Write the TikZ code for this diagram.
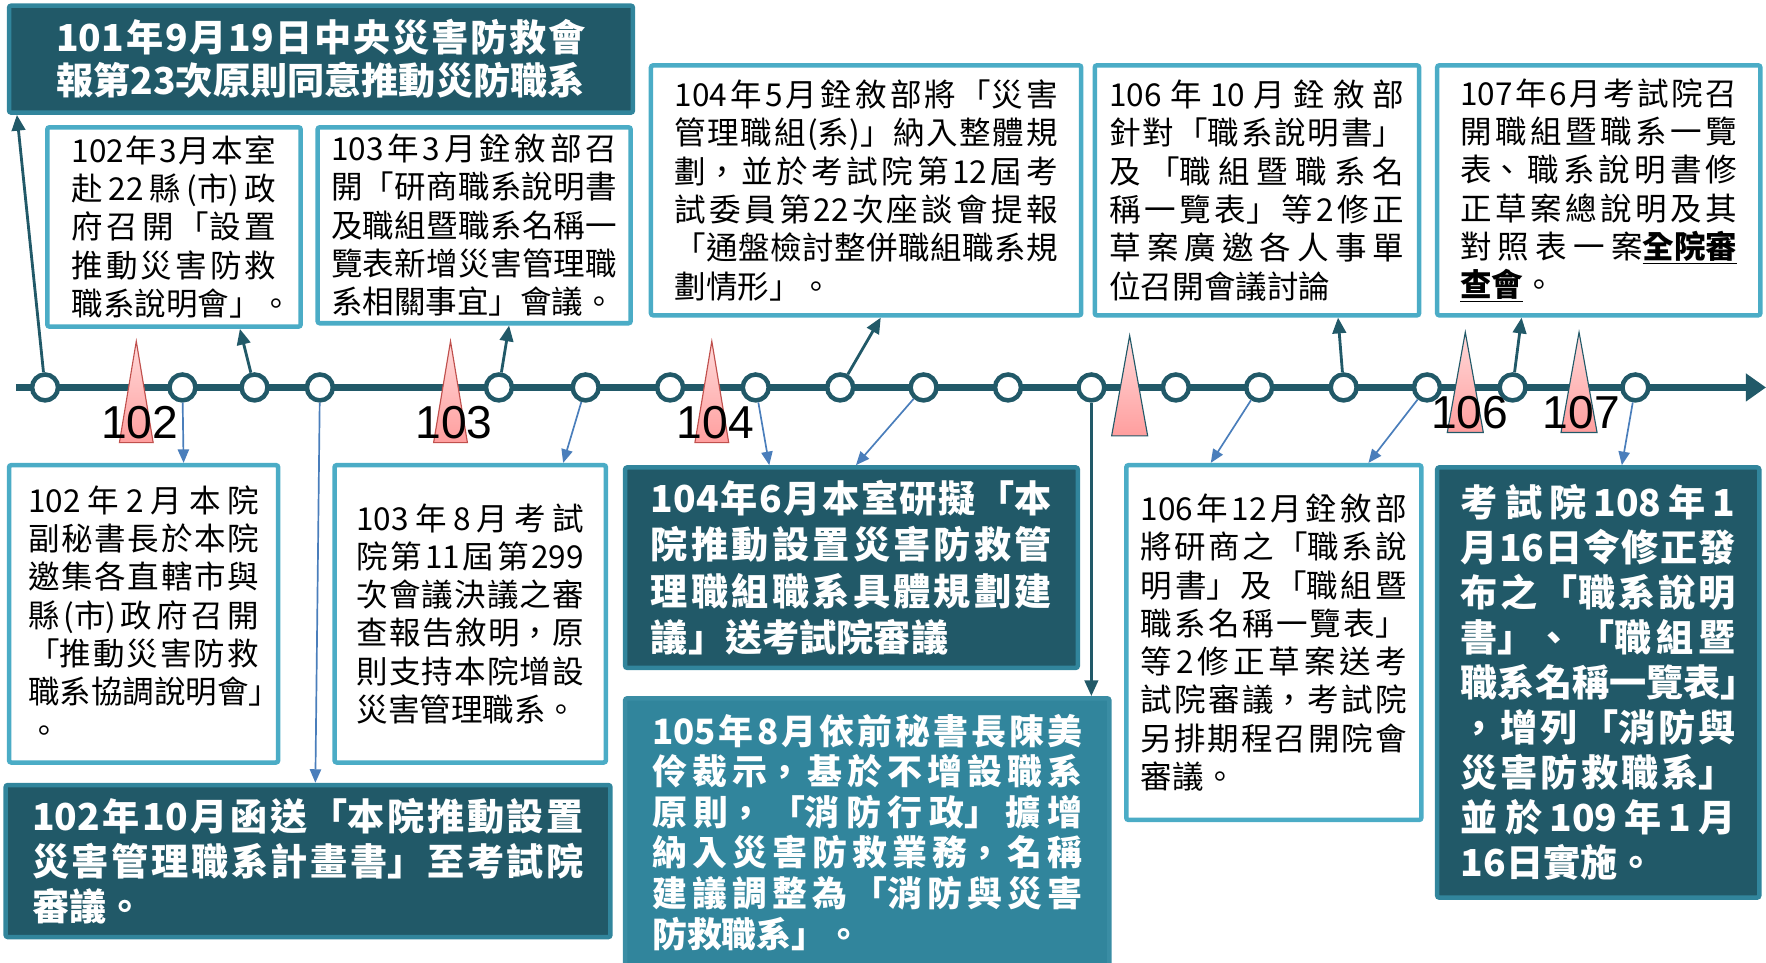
\documentclass[tikz,border=0pt]{standalone}
\usepackage{fontspec}
\setmainfont{Noto Sans CJK TC}
\newfontfamily\yrfont{Liberation Sans}
\usetikzlibrary{arrows.meta}
\XeTeXlinebreaklocale "zh"
\XeTeXlinebreakskip=0pt plus 1fil
\definecolor{tealdark}{HTML}{215968}
\definecolor{tealmid}{HTML}{31859C}
\definecolor{tealedge}{HTML}{3A8DA4}
\definecolor{teallight}{HTML}{4BACC6}
\definecolor{arrblue}{HTML}{4A7EBB}
\definecolor{pinktop}{HTML}{FFDADA}
\definecolor{pinkbot}{HTML}{FF9E9E}
\definecolor{pinkline}{HTML}{C0504D}

\begin{document}
\begin{tikzpicture}[x=1pt, y=-1pt]
        \tikzset{panel/.style={rounded corners=2pt, line width=4pt, inner sep=0pt,
                execute at begin node={\parfillskip=0pt plus 1fill\relax}},
            whitepanel/.style={panel, draw=teallight, fill=white, font=\fontsize{28}{34}\selectfont},
            darkpanel/.style={panel, draw=tealmid, fill=tealdark, text=white, font=\bfseries\fontsize{33}{40}\selectfont},
            midpanel/.style={panel, draw=tealedge, fill=tealmid, text=white, font=\bfseries\fontsize{31}{36}\selectfont},
            dot/.style={circle, draw=tealdark, fill=white, line width=4pt, minimum size=23pt, inner sep=0pt},
            peak/.style={top color=pinktop, bottom color=pinkbot, draw=pinkline, line width=1pt},
            year/.style={font=\yrfont\fontsize{41}{41}\selectfont, inner sep=0pt},
            axis/.style={tealdark, line width=7pt, -{Triangle[length=18pt, width=24pt]}},
            darkarrow/.style={tealdark, line width=2.5pt, -{Triangle[length=14pt, width=12pt]}},
            bluearrow/.style={arrblue, line width=1.5pt, -{Triangle[length=12pt, width=10pt]}}}
        \useasboundingbox (0,0) rectangle (1568,855);

        \coordinate (tl_start) at (14,344);
        \coordinate (tl_end) at (1568,344);
        \draw[axis] (tl_start) -- (tl_end);

        \shadedraw[peak] (121,303) -- (136,393) -- (106,393) -- cycle;
        \shadedraw[peak] (400,303) -- (415,393) -- (385,393) -- cycle;
        \shadedraw[peak] (632,303) -- (647,393) -- (617,393) -- cycle;
        \shadedraw[peak, draw=tealdark] (1003,298) -- (1019,387) -- (987,387) -- cycle;
        \shadedraw[peak, draw=tealdark] (1301,295) -- (1317,384) -- (1285,384) -- cycle;
        \shadedraw[peak, draw=tealdark] (1402,295) -- (1418,384) -- (1386,384) -- cycle;

        \node[dot] (c1) at (40,344) {};
        \node[dot] (c2) at (162,344) {};
        \node[dot] (c3) at (226,344) {};
        \node[dot] (c4) at (284,344) {};
        \node[dot] (c5) at (443,344) {};
        \node[dot] (c6) at (520,344) {};
        \node[dot] (c7) at (595,344) {};
        \node[dot] (c8) at (671,344) {};
        \node[dot] (c9) at (746,344) {};
        \node[dot] (c10) at (820,344) {};
        \node[dot] (c11) at (895,344) {};
        \node[dot] (c12) at (969,344) {};
        \node[dot] (c13) at (1044,344) {};
        \node[dot] (c14) at (1118,344) {};
        \node[dot] (c15) at (1193,344) {};
        \node[dot] (c16) at (1267,344) {};
        \node[dot] (c17) at (1343,344) {};
        \node[dot] (c18) at (1452,344) {};

        \node[year] (y102) at (124,375) {102};
        \node[year] (y103) at (403,375) {103};
        \node[year] (y104) at (635,375) {104};
        \node[year] (y106) at (1305,366) {106};
        \node[year] (y107) at (1404,366) {107};

        \node[darkpanel, minimum width=554pt, minimum height=95pt, text width=470pt,
            font=\bfseries\fontsize{33}{38}\selectfont] (b101) at (285,52.5) {101年9月19日中央災害防救會\linebreak
            報第23次原則同意推動災防職系};
        \node[whitepanel, minimum width=225pt, minimum height=177pt, text width=182pt] (b102a) at (154.5,201.5) {102年3月本室\linebreak
            赴22縣(市)政\linebreak
            府召開「設置\linebreak
            推動災害防救\linebreak
            \mbox{職系說明會」。}};
        \node[whitepanel, minimum width=278pt, minimum height=174pt, text width=254pt] (b103a) at (421,200) {103年3月銓敘部召\linebreak
            開「研商職系說明書\linebreak
            及職組暨職系名稱一\linebreak
            覽表新增災害管理職\linebreak
            系相關事宜」會議。};
        \node[whitepanel, minimum width=382pt, minimum height=222pt, text width=340pt] (b104a) at (769,169) {104年5月銓敘部將「災害\linebreak
            管理職組(系)」納入整體規\linebreak
            劃，並於考試院第12屆考\linebreak
            試委員第22次座談會提報\linebreak
            「通盤檢討整併職組職系規\linebreak
            劃情形」。};
        \node[whitepanel, minimum width=288pt, minimum height=222pt, text width=262pt] (b106a) at (1116,169) {106年10月銓敘部\linebreak
            針對「職系說明書」\linebreak
            及「職組暨職系名\linebreak
            稱一覽表」等2修正\linebreak
            草案廣邀各人事單\linebreak
            位召開會議討論};
        \node[whitepanel, minimum width=287pt, minimum height=222pt, text width=246pt] (b107) at (1419.5,169) {107年6月考試院召\linebreak
            開職組暨職系一覽\linebreak
            表、職系說明書修\linebreak
            正草案總說明及其\linebreak
            對照表一案\underline{\textbf{全院審}}\linebreak
            \underline{\textbf{查會}}。};

        \node[whitepanel, minimum width=239pt, minimum height=264pt, text width=205pt] (b102b) at (127.5,545) {102年2月本院\linebreak
            副秘書長於本院\linebreak
            邀集各直轄市與\linebreak
            縣(市)政府召開\linebreak
            「推動災害防救\linebreak
            \mbox{職系協調說明會」}\linebreak
            。};
        \node[whitepanel, minimum width=241pt, minimum height=264pt, text width=202pt] (b103b) at (417.5,545) {103年8月考試\linebreak
            院第11屆第299\linebreak
            次會議決議之審\linebreak
            查報告敘明，原\linebreak
            則支持本院增設\linebreak
            災害管理職系。};
        \node[darkpanel, minimum width=537pt, minimum height=135pt, text width=490pt] (b102c) at (273.5,764.5) {102年10月函送「本院推動設置\linebreak
            災害管理職系計畫書」至考試院\linebreak
            審議。};
        \node[darkpanel, minimum width=402pt, minimum height=178pt, text width=356pt,
            font=\bfseries\fontsize{33}{41}\selectfont] (b104b) at (756,504) {104年6月本室研擬「本\linebreak
            院推動設置災害防救管\linebreak
            理職組職系具體規劃建\linebreak
            議」送考試院審議};
        \node[midpanel, minimum width=430pt, minimum height=238pt, text width=382pt] (b105) at (770,739) {105年8月依前秘書長陳美\linebreak
            伶裁示，基於不增設職系\linebreak
            原則，「消防行政」擴增\linebreak
            納入災害防救業務，名稱\linebreak
            建議調整為「消防與災害\linebreak
            防救職系」。};
        \node[whitepanel, minimum width=262pt, minimum height=315pt, text width=236pt] (b106b) at (1131,570.5) {106年12月銓敘部\linebreak
            將研商之「職系說\linebreak
            明書」及「職組暨\linebreak
            職系名稱一覽表」\linebreak
            等2修正草案送考\linebreak
            試院審議，考試院\linebreak
            另排期程召開院會\linebreak
            審議。};
        \node[darkpanel, minimum width=286pt, minimum height=382pt, text width=244pt] (b108) at (1419,606) {考試院108年1\linebreak
            月16日令修正發\linebreak
            布之「職系說明\linebreak
            書」、「職組暨\linebreak
            \mbox{職系名稱一覽表」}\linebreak
            ，增列「消防與\linebreak
            災害防救職系」\linebreak
            並於109年1月\linebreak
            16日實施。};

        \path[darkarrow]
        (c1) edge ([xshift=9pt]b101.south west)
        (c3) edge ([xshift=173pt]b102a.south west)
        (c5) edge ([xshift=172pt]b103a.south west)
        (c9) edge ([xshift=206pt]b104a.south west)
        (c12) edge ([xshift=416pt]b105.north west)
        (c15) edge ([xshift=218pt]b106a.south west)
        (c17) edge ([xshift=77pt]b107.south west);
        \path[bluearrow]
        (c2) edge ([xshift=157pt]b102b.north west)
        (c4) edge ([xshift=277pt]b102c.north west)
        (c6) edge ([xshift=205pt]b103b.north west)
        (c8) edge ([xshift=130pt]b104b.north west)
        (c10) edge ([xshift=207pt]b104b.north west)
        (c14) edge ([xshift=77pt]b106b.north west)
        (c16) edge ([xshift=217pt]b106b.north west)
        (c18) edge ([xshift=166pt]b108.north west);
    \end{tikzpicture}
\end{document}
